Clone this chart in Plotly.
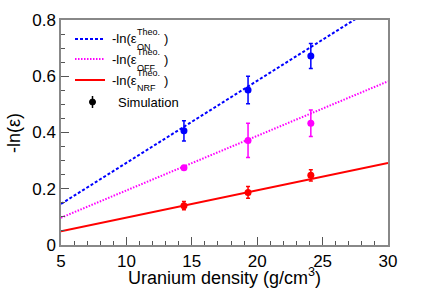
import plotly.graph_objects as go

# ---- data ----
density = [14.4, 19.3, 24.1]
on_vals = [0.406, 0.551, 0.672]
on_err = [0.036, 0.049, 0.044]
off_vals = [0.275, 0.372, 0.433]
off_err = [0.006, 0.061, 0.047]
nrf_vals = [0.140, 0.187, 0.248]
nrf_err = [0.015, 0.021, 0.020]

line_x = [5, 30]
theo_on = [0.146, 0.876]
theo_off = [0.097, 0.582]
theo_nrf = [0.0486, 0.292]

x_ticks = [5, 10, 15, 20, 25, 30]
y_ticks = [0, 0.2, 0.4, 0.6, 0.8]
y_ticklabels = ["0", "0.2", "0.4", "0.6", "0.8"]

BLUE = "#0000ff"
MAG = "#ff00ff"
RED = "#ff0000"
FONT = "Liberation Sans, Arial, Helvetica, sans-serif"
AXC = "#888888"

W, H = 436, 295
L, R, T, B = 61, 388, 20, 245


def px(x):
    return (x - L) / (R - L)


def py(y):
    return (B - y) / (B - T)


fig = go.Figure()

fig.add_trace(go.Scatter(x=line_x, y=theo_on, mode="lines",
                         line=dict(color=BLUE, width=2, dash="3px,2px"), showlegend=False))
fig.add_trace(go.Scatter(x=line_x, y=theo_off, mode="lines",
                         line=dict(color=MAG, width=2, dash="1.5px,1.5px"), showlegend=False))
fig.add_trace(go.Scatter(x=line_x, y=theo_nrf, mode="lines",
                         line=dict(color=RED, width=2), showlegend=False))

for vals, errs, col in [(on_vals, on_err, BLUE), (off_vals, off_err, MAG), (nrf_vals, nrf_err, RED)]:
    fig.add_trace(go.Scatter(
        x=density, y=vals, mode="markers",
        marker=dict(color=col, size=7, symbol="circle"),
        error_y=dict(type="data", array=errs, visible=True, color=col, thickness=1.5, width=2),
        showlegend=False))

shapes = []
annotations = []


def txt(s, x, y, size, anchor="left", angle=0):
    annotations.append(dict(text=s, x=px(x), y=py(y), xref="paper", yref="paper",
                            xanchor=anchor, yanchor="middle", showarrow=False, textangle=angle,
                            font=dict(size=size, family=FONT, color="black")))


# legend
rows = [
    (39, 38.5, 31.5, 46.5, "ON", BLUE, "3px,2px"),
    (59, 59.5, 52, 68, "OFF", MAG, "1.5px,1.5px"),
    (80, 80.5, 73, 88.5, "NRF", RED, "solid"),
]
for yl, yt, ysup, ysub, sub, col, dash in rows:
    shapes.append(dict(type="line", xref="paper", yref="paper",
                       x0=px(75), x1=px(105), y0=py(yl), y1=py(yl),
                       line=dict(color=col, width=2, dash=dash)))
    txt("-ln(\u03b5", 110, yt, 13)
    txt("Theo.", 135, ysup, 9)
    txt(sub, 135, ysub, 9)
    txt(")", 161.5, yt, 13)

# simulation legend entry
sy = 102
shapes.append(dict(type="line", xref="paper", yref="paper",
                   x0=px(92.5), x1=px(92.5), y0=py(sy - 6), y1=py(sy + 6),
                   line=dict(color="black", width=1.5)))
shapes.append(dict(type="circle", xref="paper", yref="paper",
                   x0=px(89.5), x1=px(95.5), y0=py(sy + 3), y1=py(sy - 3),
                   fillcolor="black", line=dict(color="black", width=1)))
txt("Simulation", 115.5, sy, 13)

# axis titles
txt("Uranium density (g/cm<sup>3</sup>)", 224, 276, 18, anchor="center")
txt("-ln(\u03b5)", 14, 133, 18, anchor="center", angle=-90)

fig.update_layout(
    width=W, height=H,
    margin=dict(l=L, r=W - R, t=T, b=H - B, pad=0),
    paper_bgcolor="white", plot_bgcolor="white",
    shapes=shapes, annotations=annotations,
    font=dict(family=FONT, size=17, color="black"),
    showlegend=False,
)
fig.update_xaxes(range=[5, 30], tickvals=x_ticks, ticktext=[str(v) for v in x_ticks],
                 showgrid=False, zeroline=False, showline=True, linecolor=AXC, linewidth=1.5,
                 mirror=True, ticks="inside", ticklen=8, tickcolor="#555555", tickwidth=1,
                 tickfont=dict(size=17, family=FONT, color="black"),
                 minor=dict(ticks="inside", ticklen=4, dtick=1, tickcolor="#555555", showgrid=False))
fig.update_yaxes(range=[0, 0.8], tickvals=y_ticks, ticktext=y_ticklabels,
                 showgrid=False, zeroline=False, showline=True, linecolor=AXC, linewidth=1.5,
                 mirror=True, ticks="inside", ticklen=8, tickcolor="#555555", tickwidth=1,
                 tickfont=dict(size=17, family=FONT, color="black"),
                 minor=dict(ticks="inside", ticklen=4, dtick=0.05, tickcolor="#555555", showgrid=False))

fig.write_html("out.html", config={"displayModeBar": False},
               post_script="document.body.style.margin='0';document.body.style.overflow='hidden';")
